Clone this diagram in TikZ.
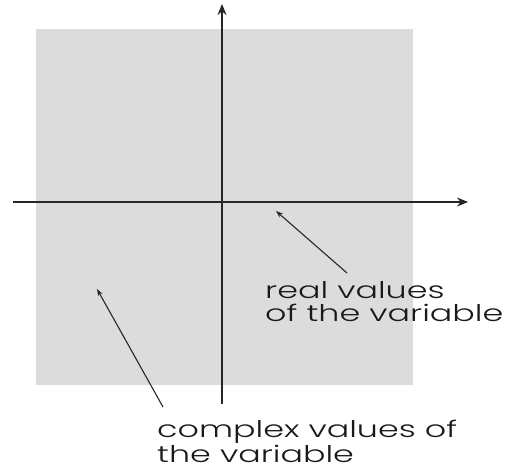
\documentclass[tikz,border=0pt]{standalone}
\usepackage{fontspec}
\setmainfont{Poppins}
\newfontfamily\labelfont[FakeStretch=1.45]{Poppins Light}
\usetikzlibrary{arrows.meta}
\definecolor{planegray}{HTML}{DCDCDC}
\tikzset{
  axis/.style={line width=2.2pt, draw=black!85, -{Stealth[length=11pt,width=9pt]}},
  pointer/.style={line width=1.1pt, draw=black!85, -{Stealth[length=7pt,width=5pt]}},
  label/.style={anchor=base west, align=left, inner sep=0pt, font=\labelfont\fontsize{23}{23}\selectfont, text=black!90}
}
\begin{document}
\begin{tikzpicture}[x=1pt,y=-1pt]
\useasboundingbox (0,0) rectangle (506,470);
\fill[planegray] (36,29) rectangle (413,385);
\coordinate (vbot) at (222,404);
\coordinate (vtop) at (222,4);
\coordinate (hleft) at (13,202);
\coordinate (hright) at (468,202);
\draw[axis] (vbot) -- (vtop);
\draw[axis] (hleft) -- (hright);
\coordinate (rtail) at (347,273);
\coordinate (rtip) at (276,211);
\coordinate (ctail) at (163,407);
\coordinate (ctip) at (97,289);
\draw[pointer] (rtail) -- (rtip);
\draw[pointer] (ctail) -- (ctip);
\node[label] (real) at (265,322) {real values\\of the variable};
\node[label] (complex) at (157,462) {complex values of\\the variable};
\end{tikzpicture}
\end{document}
